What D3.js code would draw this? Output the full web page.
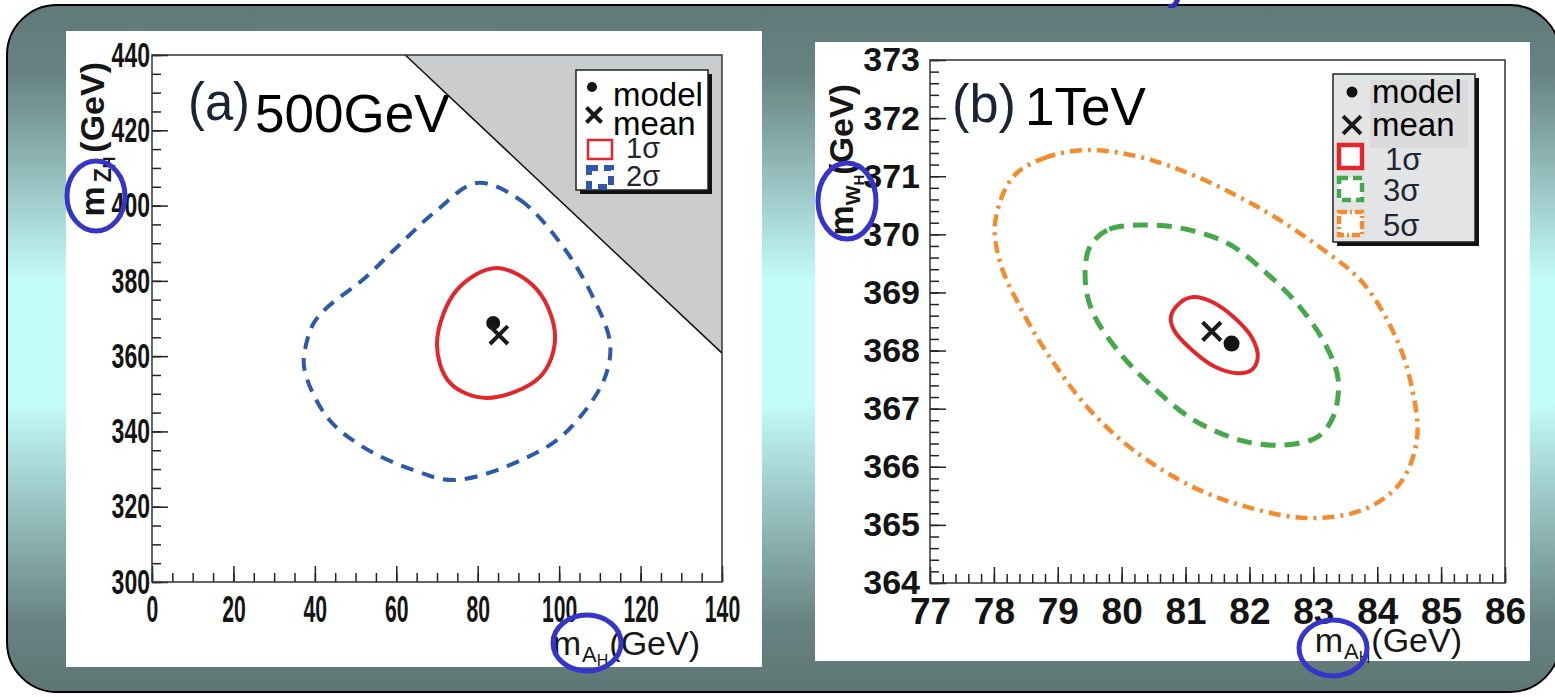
<!DOCTYPE html>
<html>
<head>
<meta charset="utf-8">
<script src="https://cdn.jsdelivr.net/npm/d3@7"></script>
<style>
  html, body { margin: 0; padding: 0; background: #fff; }
  svg { display: block; }
</style>
</head>
<body>
<svg id="chart" width="1555" height="697"></svg>
<script>
// ---------- values ----------
// (a) 500GeV : m_AH (x) vs m_ZH (y)
const xTicksA = [0, 20, 40, 60, 80, 100, 120, 140];
const yTicksA = [300, 320, 340, 360, 380, 400, 420, 440];
const modelA = [83.8, 368.8];
const meanA = [85.2, 365.6];
const boundaryA = [[62.2, 440], [140, 440], [140, 360.8]];
const sigma1A = [
  [84.7, 383.4], [94.6, 377.6], [99.0, 365.1], [95.3, 354.5],
  [82.3, 348.9], [73.2, 352.9], [70.0, 363.5], [74.9, 377.6]
];
const sigma2A = [
  [79.8, 406.0], [90.4, 401.5], [101.0, 389.0], [108.3, 375.7],
  [112.5, 363.5], [111.3, 354.5], [105.1, 343.8], [97.0, 335.9],
  [74.9, 327.1], [64.1, 329.8], [51.8, 335.9], [43.0, 343.8],
  [37.4, 356.8], [38.1, 364.2], [39.9, 369.1], [43.4, 373.3],
  [52.0, 380.5], [60.2, 389.0], [70.0, 398.8]
];
const legendA = ['model', 'mean', '1σ', '2σ'];

// (b) 1TeV : m_AH (x) vs m_WH (y)
const xTicksB = [77, 78, 79, 80, 81, 82, 83, 84, 85, 86];
const yTicksB = [364, 365, 366, 367, 368, 369, 370, 371, 372, 373];
const modelB = [81.72, 368.12];
const meanB = [81.41, 368.33];
const sigma1B = [
  [80.77, 368.58], [80.91, 368.82], [81.12, 368.92], [81.41, 368.84],
  [81.77, 368.56], [82.04, 368.22], [82.13, 367.89], [82.04, 367.67],
  [81.81, 367.61], [81.46, 367.72], [81.07, 368.04], [80.82, 368.35]
];
const sigma3B = [
  [80.29, 370.16], [79.77, 370.07], [79.50, 369.78], [79.43, 369.21],
  [79.55, 368.65], [79.97, 367.96], [80.49, 367.37], [81.12, 366.81],
  [81.85, 366.46], [82.48, 366.37], [83.06, 366.51], [83.31, 366.86],
  [83.39, 367.49], [83.21, 368.06], [82.79, 368.75], [82.27, 369.33],
  [81.65, 369.85], [80.91, 370.11]
];
const sigma5B = [
  [79.50, 371.45], [78.83, 371.33], [78.30, 370.99], [78.02, 370.20],
  [78.10, 369.51], [78.41, 368.75], [78.83, 367.96], [79.46, 367.03],
  [80.18, 366.29], [81.12, 365.65], [81.96, 365.31], [82.90, 365.12],
  [83.78, 365.26], [84.36, 365.72], [84.62, 366.46], [84.56, 367.27],
  [84.31, 368.18], [83.78, 369.16], [83.10, 369.78], [82.21, 370.42],
  [81.18, 370.99], [80.29, 371.33]
];
const legendB = ['model', 'mean', '1σ', '3σ', '5σ'];

// ---------- styles ----------
const FONT = 'Liberation Sans, Arial, Helvetica, sans-serif';
const contourStyle = {
  s1: { stroke: '#e2262b', width: 4, dash: null },
  s2: { stroke: '#2b5ba8', width: 4, dash: '13,9' },
  s3: { stroke: '#45a84b', width: 5, dash: '15,9' },
  s5: { stroke: '#f28c2e', width: 4.5, dash: '12,6,3,6' }
};
const timesSymbol = d3.symbolTimes || d3.symbolX || d3.symbolCross;

const svg = d3.select('#chart');

// ---------- slide background ----------
const defs = svg.append('defs');
const grad = defs.append('linearGradient')
  .attr('id', 'slideBg')
  .attr('x1', 0).attr('y1', 0).attr('x2', 0).attr('y2', 1);
[[0, '#5f7a78'], [0.1, '#678381'], [0.4, '#c4fbfb'], [0.58, '#c4fbfb'],
 [0.9, '#678381'], [1, '#5e7674']]
  .forEach(([o, c]) => grad.append('stop').attr('offset', o).attr('stop-color', c));

svg.append('rect')
  .attr('x', 7).attr('y', 5)
  .attr('width', 1553).attr('height', 687)
  .attr('rx', 50).attr('ry', 50)
  .attr('fill', 'url(#slideBg)')
  .attr('stroke', '#000')
  .attr('stroke-width', 2);

// descender of the slide title that is cut off at the top
svg.append('text')
  .attr('x', 1166).attr('y', 0)
  .attr('font-family', FONT)
  .attr('font-size', 40)
  .attr('font-weight', 'bold')
  .attr('fill', '#2c2cb4')
  .text('y');

// ---------- panels ----------
function drawPanel(p) {
  const g = svg.append('g');

  g.append('rect')
    .attr('x', p.box[0]).attr('y', p.box[1])
    .attr('width', p.box[2]).attr('height', p.box[3])
    .attr('fill', '#fff');

  const x = d3.scaleLinear().domain(p.xDomain).range([p.left, p.right]);
  const y = d3.scaleLinear().domain(p.yDomain).range([p.bottom, p.top]);

  // excluded region
  if (p.boundary) {
    g.append('path')
      .attr('d', d3.line().x(d => x(d[0])).y(d => y(d[1]))(p.boundary) + 'Z')
      .attr('fill', '#cbccce');
    g.append('path')
      .attr('d', d3.line().x(d => x(d[0])).y(d => y(d[1]))([p.boundary[0], p.boundary[2]]))
      .attr('stroke', '#111')
      .attr('stroke-width', 1.5)
      .attr('fill', 'none');
  }

  // minor ticks
  g.append('g')
    .attr('transform', `translate(0,${p.bottom})`)
    .call(d3.axisBottom(x).tickValues(p.xMinor).tickSize(-9).tickSizeOuter(0).tickFormat(''))
    .call(a => a.select('.domain').remove())
    .call(a => a.selectAll('line').attr('stroke', '#222').attr('stroke-width', 1.5));
  g.append('g')
    .attr('transform', `translate(${p.left},0)`)
    .call(d3.axisLeft(y).tickValues(p.yMinor).tickSize(-9).tickSizeOuter(0).tickFormat(''))
    .call(a => a.select('.domain').remove())
    .call(a => a.selectAll('line').attr('stroke', '#222').attr('stroke-width', 1.5));

  // major ticks + labels
  const xAxis = g.append('g')
    .attr('transform', `translate(0,${p.bottom})`)
    .call(d3.axisBottom(x).tickValues(p.xTicks).tickSize(-16).tickSizeOuter(0)
      .tickPadding(p.xPad).tickFormat(d3.format('d')))
    .call(a => a.select('.domain').remove())
    .call(a => a.selectAll('line').attr('stroke', '#222').attr('stroke-width', 1.5));
  xAxis.selectAll('text')
    .attr('fill', '#141414')
    .attr('font-family', FONT)
    .attr('font-weight', 'bold')
    .attr('font-size', p.xFont);
  if (p.xCharW) {
    xAxis.selectAll('text')
      .attr('textLength', d => String(d).length * p.xCharW)
      .attr('lengthAdjust', 'spacingAndGlyphs');
  }

  const yAxis = g.append('g')
    .attr('transform', `translate(${p.left},0)`)
    .call(d3.axisLeft(y).tickValues(p.yTicks).tickSize(-16).tickSizeOuter(0)
      .tickPadding(p.yPad).tickFormat(d3.format('d')))
    .call(a => a.select('.domain').remove())
    .call(a => a.selectAll('line').attr('stroke', '#222').attr('stroke-width', 1.5));
  yAxis.selectAll('text')
    .attr('fill', '#141414')
    .attr('font-family', FONT)
    .attr('font-weight', 'bold')
    .attr('font-size', p.yFont);
  if (p.yCharW) {
    yAxis.selectAll('text')
      .attr('textLength', d => String(d).length * p.yCharW)
      .attr('lengthAdjust', 'spacingAndGlyphs');
  }

  // frame
  g.append('rect')
    .attr('x', p.left).attr('y', p.top)
    .attr('width', p.right - p.left).attr('height', p.bottom - p.top)
    .attr('fill', 'none')
    .attr('stroke', '#333')
    .attr('stroke-width', 1.5);

  // contours
  const contourLine = d3.line()
    .x(d => x(d[0]))
    .y(d => y(d[1]))
    .curve(d3.curveCatmullRomClosed.alpha(0.5));

  p.contours.forEach(c => {
    const s = contourStyle[c.style];
    g.append('path')
      .attr('d', contourLine(c.points))
      .attr('fill', 'none')
      .attr('stroke', s.stroke)
      .attr('stroke-width', s.width)
      .attr('stroke-dasharray', s.dash);
  });

  // model / mean markers
  g.append('circle')
    .attr('cx', x(p.model[0])).attr('cy', y(p.model[1]))
    .attr('r', p.dotR)
    .attr('fill', '#141414');
  g.append('path')
    .attr('transform', `translate(${x(p.mean[0])},${y(p.mean[1])})`)
    .attr('d', d3.symbol(timesSymbol, p.crossSize)())
    .attr('fill', 'none')
    .attr('stroke', '#1a1a1a')
    .attr('stroke-width', 4);

  // panel title
  g.append('text')
    .attr('x', p.tag.x).attr('y', p.tag.y)
    .attr('font-family', FONT)
    .attr('font-size', 54)
    .attr('fill', '#1c2434')
    .attr('textLength', p.tag.w)
    .attr('lengthAdjust', 'spacingAndGlyphs')
    .text(p.tag.text);
  g.append('text')
    .attr('x', p.energy.x).attr('y', p.energy.y)
    .attr('font-family', FONT)
    .attr('font-size', 53)
    .attr('fill', '#000')
    .text(p.energy.text);

  // axis titles
  const title = (t, transform, weight, subSize) => {
    const txt = g.append('text')
      .attr('transform', transform)
      .attr('text-anchor', 'end')
      .attr('font-family', FONT)
      .attr('font-weight', weight)
      .attr('font-size', 34)
      .attr('fill', '#161616');
    txt.append('tspan').text('m');
    txt.append('tspan').attr('font-size', subSize[0]).attr('dy', 7).attr('dx', subSize[2]).text(t[0]);
    txt.append('tspan').attr('font-size', subSize[1]).attr('dy', 4).text(t[1]);
    txt.append('tspan').attr('dy', -11).attr('dx', subSize[2]).text('(GeV)');
  };
  title(p.xTitle.sub, `translate(${p.xTitle.x},${p.xTitle.y})`, 'normal', [22, 16, 1]);
  title(p.yTitle.sub, `translate(${p.yTitle.x},${p.yTitle.y}) rotate(-90)`, 'bold', p.yTitle.subSize);

  // hand-drawn highlight rings round the subscripts
  p.rings.forEach(r => {
    g.append('ellipse')
      .attr('cx', r[0]).attr('cy', r[1])
      .attr('rx', r[2]).attr('ry', r[3])
      .attr('fill', 'none')
      .attr('stroke', '#3535c9')
      .attr('stroke-width', 5);
  });

  return { g, x, y };
}

function drawLegend(g, labels, L) {
  g.append('rect')
    .attr('x', L.x + 4).attr('y', L.y + 4)
    .attr('width', L.w).attr('height', L.h)
    .attr('fill', '#111');
  g.append('rect')
    .attr('x', L.x).attr('y', L.y)
    .attr('width', L.w).attr('height', L.h)
    .attr('fill', L.fill)
    .attr('stroke', '#222')
    .attr('stroke-width', 1.5);
  if (L.inner) {
    g.append('rect')
      .attr('x', L.inner[0]).attr('y', L.inner[1])
      .attr('width', L.inner[2]).attr('height', L.inner[3])
      .attr('fill', '#dbdbdc');
  }

  labels.forEach((label, i) => {
    const row = L.rows[i];
    if (row.kind === 'dot') {
      g.append('circle')
        .attr('cx', row.mx).attr('cy', row.my).attr('r', L.dotR)
        .attr('fill', '#141414');
    } else if (row.kind === 'cross') {
      g.append('path')
        .attr('transform', `translate(${row.mx},${row.my})`)
        .attr('d', d3.symbol(timesSymbol, L.crossSize)())
        .attr('fill', 'none')
        .attr('stroke', '#1a1a1a')
        .attr('stroke-width', 4);
    } else {
      const s = contourStyle[row.kind];
      g.append('rect')
        .attr('x', row.mx).attr('y', row.my)
        .attr('width', row.w).attr('height', row.h)
        .attr('fill', '#fff')
        .attr('stroke', s.stroke)
        .attr('stroke-width', row.sw)
        .attr('stroke-dasharray', row.dash);
    }
    g.append('text')
      .attr('x', row.tx).attr('y', row.ty)
      .attr('font-family', FONT)
      .attr('font-size', row.fs)
      .attr('fill', i < 2 ? '#000' : '#1e2633')
      .text(label);
  });
}

// ---------- (a) ----------
const panelA = drawPanel({
  box: [66, 31, 696, 636],
  xDomain: [0, 140], yDomain: [300, 440],
  left: 152, right: 722, top: 55, bottom: 582,
  xTicks: xTicksA, yTicks: yTicksA,
  xMinor: d3.range(0, 141, 5), yMinor: d3.range(300, 441, 5),
  xPad: 14, yPad: 2, xFont: 36, yFont: 35, xCharW: 11.8, yCharW: 12.8,
  boundary: boundaryA,
  contours: [
    { points: sigma2A, style: 's2' },
    { points: sigma1A, style: 's1' }
  ],
  model: modelA, mean: meanA, dotR: 7, crossSize: 210,
  tag: { text: '(a)', x: 188, y: 120, w: 62 },
  energy: { text: '500GeV', x: 255, y: 132 },
  xTitle: { sub: ['A', 'H'], x: 700, y: 655 },
  yTitle: { sub: ['Z', 'H'], x: 104, y: 62, subSize: [23, 16, 4] },
  rings: [[96, 196, 29, 35], [587, 643, 34, 28]]
});
drawLegend(panelA.g, legendA, {
  x: 576, y: 70, w: 132, h: 120, fill: '#fff', dotR: 5, crossSize: 150,
  rows: [
    { kind: 'dot', mx: 592, my: 87, tx: 613, ty: 106, fs: 33 },
    { kind: 'cross', mx: 594, my: 115, tx: 613, ty: 135, fs: 33 },
    { kind: 's1', mx: 588, my: 140, w: 24, h: 19, sw: 2.5, dash: null, tx: 626, ty: 158, fs: 29 },
    { kind: 's2', mx: 589, my: 168, w: 22, h: 19, sw: 6, dash: '9,6', tx: 626, ty: 186, fs: 29 }
  ]
});

// ---------- (b) ----------
const panelB = drawPanel({
  box: [815, 42, 715, 619],
  xDomain: [77, 86], yDomain: [364, 373],
  left: 930, right: 1505, top: 60, bottom: 583,
  xTicks: xTicksB, yTicks: yTicksB,
  xMinor: d3.range(77, 86.01, 0.2), yMinor: d3.range(364, 373.01, 0.2),
  xPad: 15, yPad: 10, xFont: 37, yFont: 34, xCharW: null, yCharW: null,
  boundary: null,
  contours: [
    { points: sigma5B, style: 's5' },
    { points: sigma3B, style: 's3' },
    { points: sigma1B, style: 's1' }
  ],
  model: modelB, mean: meanB, dotR: 8, crossSize: 220,
  tag: { text: '(b)', x: 952, y: 122, w: 64 },
  energy: { text: '1TeV', x: 1025, y: 125 },
  xTitle: { sub: ['A', 'H'], x: 1462, y: 652 },
  yTitle: { sub: ['W', 'H'], x: 853, y: 84, subSize: [21, 15, 0] },
  rings: [[847, 201, 29, 38], [1333, 648, 34, 28]]
});
drawLegend(panelB.g, legendB, {
  x: 1333, y: 74, w: 142, h: 168, fill: '#e3e4e6', dotR: 5.5, crossSize: 210,
  inner: [1370, 80, 98, 68],
  rows: [
    { kind: 'dot', mx: 1352, my: 92, tx: 1372, ty: 103, fs: 33 },
    { kind: 'cross', mx: 1352, my: 125, tx: 1372, ty: 136, fs: 33 },
    { kind: 's1', mx: 1339, my: 145, w: 23, h: 23, sw: 4.5, dash: null, tx: 1385, ty: 170, fs: 31 },
    { kind: 's3', mx: 1339, my: 178, w: 23, h: 22, sw: 4.5, dash: '9,5', tx: 1383, ty: 201, fs: 31 },
    { kind: 's5', mx: 1339, my: 212, w: 23, h: 23, sw: 4.5, dash: '8,3,2,3', tx: 1383, ty: 236, fs: 31 }
  ]
});
</script>
</body>
</html>
